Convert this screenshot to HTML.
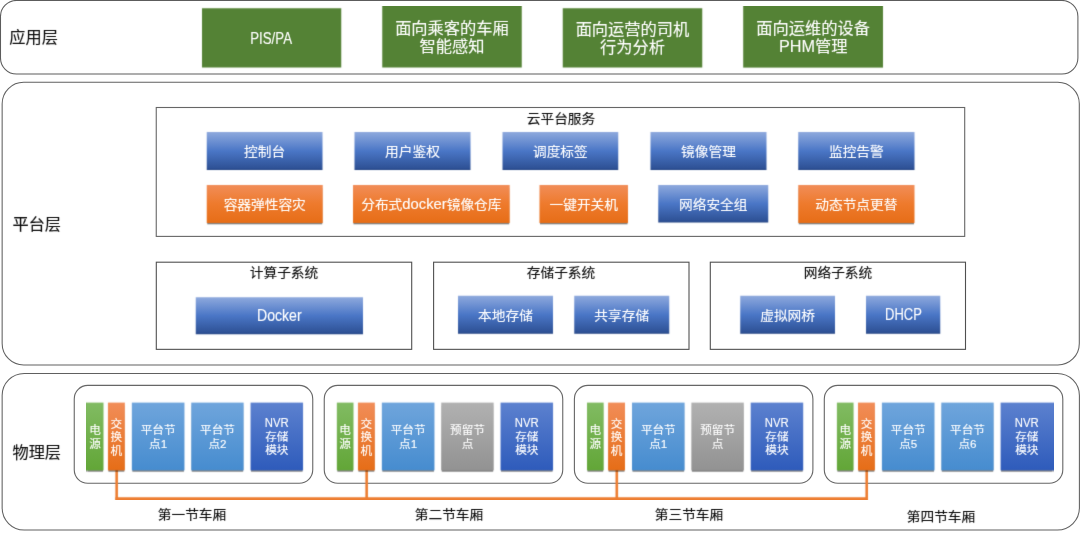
<!DOCTYPE html>
<html lang="zh-CN">
<head>
<meta charset="utf-8">
<title>架构图</title>
<style>
*{box-sizing:border-box;margin:0;padding:0}
html,body{width:1080px;height:533px;background:#fff;overflow:hidden}
body{position:relative;font-family:"Liberation Sans","Noto Sans CJK SC",sans-serif;color:#111}
svg{position:absolute;left:0;top:0;display:block}
#pg{position:absolute;left:0;top:0;width:1080px;height:533px;background:#fff}
#shp g{filter:url(#soft)}
#txt{position:absolute;left:0;top:0;width:1080px;height:533px;will-change:transform;filter:url(#soft2)}
#txt p{transform:scale(1,.95);transform-origin:50% 50%;-webkit-text-stroke:.12px currentColor}
#txt div{position:absolute;display:flex;align-items:center;justify-content:center;text-align:center;white-space:nowrap}
.lbl{font-size:16.2px;color:#0c0c0c}
.t{font-size:13.7px;color:#0c0c0c}
.g{color:#fff;font-size:16.25px;line-height:19px}
.w{color:#fff;font-size:13.7px}
.lt{display:inline-block;font-size:16.6px;line-height:19px}
.ph{display:inline-block;font-size:18.2px;line-height:19px;transform:scaleX(.893);transform-origin:0 50%;margin-right:-4.3px;vertical-align:baseline}
.nv{display:inline-block;font-size:14px;line-height:13.6px;transform:scaleX(.81);vertical-align:top;position:relative;top:-1px}
.n{color:#fff;font-size:11.6px;line-height:13.6px}
</style>
</head>
<body>
<div id="pg">
<svg id="shp" width="1080" height="533" viewBox="0 0 1080 533">
<defs>
<linearGradient id="gb" x1="0" y1="0" x2="0" y2="1"><stop offset="0" stop-color="#8ea9dd"/><stop offset=".5" stop-color="#4a76c6"/><stop offset=".96" stop-color="#2e5195"/><stop offset="1" stop-color="#1f3f80"/></linearGradient>
<linearGradient id="go" x1="0" y1="0" x2="0" y2="1"><stop offset="0" stop-color="#f18d58"/><stop offset=".5" stop-color="#ee7a2c"/><stop offset="1" stop-color="#e66d17"/></linearGradient>
<linearGradient id="gp" x1="0" y1="0" x2="0" y2="1"><stop offset="0" stop-color="#81bb62"/><stop offset="1" stop-color="#62a637"/></linearGradient>
<linearGradient id="gs" x1="0" y1="0" x2="0" y2="1"><stop offset="0" stop-color="#f18d58"/><stop offset="1" stop-color="#e66d17"/></linearGradient>
<linearGradient id="gn" x1="0" y1="0" x2="0" y2="1"><stop offset="0" stop-color="#6fa5dc"/><stop offset="1" stop-color="#468ccf"/></linearGradient>
<linearGradient id="gr" x1="0" y1="0" x2="0" y2="1"><stop offset="0" stop-color="#b1b1b1"/><stop offset="1" stop-color="#929292"/></linearGradient>
<linearGradient id="gv" x1="0" y1="0" x2="0" y2="1"><stop offset="0" stop-color="#5c81cf"/><stop offset="1" stop-color="#2e5bbb"/></linearGradient>
<filter id="soft" x="0" y="0" width="100%" height="100%" color-interpolation-filters="sRGB"><feConvolveMatrix order="3" kernelMatrix="1 5 1 5 25 5 1 5 1" divisor="49" edgeMode="duplicate" preserveAlpha="false"/></filter>
<filter id="soft2" x="0" y="0" width="100%" height="100%" color-interpolation-filters="sRGB"><feConvolveMatrix order="3" kernelMatrix="1 9 1 9 81 9 1 9 1" divisor="121" edgeMode="duplicate" preserveAlpha="false"/></filter>
<filter id="sh" x="-10%" y="-20%" width="120%" height="150%"><feGaussianBlur stdDeviation="0.75"/></filter>
</defs>
<rect x="0.5" y="0.45" width="1077.4" height="73.5" rx="16" fill="#fff" stroke="#5c5c5c" stroke-width="1.05"/>
<rect x="2.15" y="82.3" width="1077.15" height="282.7" rx="21.5" fill="#fff" stroke="#606060" stroke-width="1.05"/>
<rect x="2.15" y="373.4" width="1077.25" height="156.55" rx="22" fill="#fff" stroke="#606060" stroke-width="1.05"/>
<rect x="156.25" y="107.5" width="808.45" height="128.9" rx="0" fill="#fff" stroke="#666" stroke-width="1.1"/>
<rect x="156.3" y="262.2" width="255.4" height="87.15" rx="0" fill="#fff" stroke="#505050" stroke-width="1.1"/>
<rect x="433.6" y="262.2" width="255.4" height="87.15" rx="0" fill="#fff" stroke="#505050" stroke-width="1.1"/>
<rect x="710.3" y="262.2" width="255.2" height="87.15" rx="0" fill="#fff" stroke="#505050" stroke-width="1.1"/>
<rect x="74.25" y="385.4" width="238.5" height="97.9" rx="13.5" fill="#fff" stroke="#666" stroke-width="1.1"/>
<rect x="324.25" y="385.4" width="238.5" height="97.9" rx="13.5" fill="#fff" stroke="#666" stroke-width="1.1"/>
<rect x="574.4" y="385.4" width="238.5" height="97.9" rx="13.5" fill="#fff" stroke="#666" stroke-width="1.1"/>
<rect x="824.3" y="385.4" width="238.5" height="97.9" rx="13.5" fill="#fff" stroke="#666" stroke-width="1.1"/>
<g>
<rect x="202" y="8.25" width="139.25" height="59.25" fill="#548235"/>
<rect x="382.25" y="6" width="139.5" height="61.5" fill="#548235"/>
<rect x="562.75" y="8.25" width="139.5" height="59.25" fill="#548235"/>
<rect x="743.2" y="6" width="139.8" height="61.6" fill="#548235"/>
<rect x="206.75" y="132" width="115.75" height="38" fill="url(#gb)"/>
<rect x="354.5" y="132" width="116" height="38" fill="url(#gb)"/>
<rect x="502.5" y="132" width="115.75" height="38" fill="url(#gb)"/>
<rect x="650.5" y="132" width="116" height="38" fill="url(#gb)"/>
<rect x="798.25" y="132" width="116.25" height="38" fill="url(#gb)"/>
<rect x="207.25" y="188" width="115" height="36.3" fill="#000" opacity=".5" filter="url(#sh)"/>
<rect x="206.75" y="185" width="116" height="38" fill="url(#go)"/>
<rect x="353.5" y="188" width="155.7" height="36.3" fill="#000" opacity=".5" filter="url(#sh)"/>
<rect x="353" y="185" width="156.7" height="38" fill="url(#go)"/>
<rect x="540" y="188" width="87.5" height="36.3" fill="#000" opacity=".5" filter="url(#sh)"/>
<rect x="539.5" y="185" width="88.5" height="38" fill="url(#go)"/>
<rect x="658.25" y="185" width="110" height="37.5" fill="url(#gb)"/>
<rect x="798.75" y="188" width="115.25" height="36.3" fill="#000" opacity=".5" filter="url(#sh)"/>
<rect x="798.25" y="185" width="116.25" height="38" fill="url(#go)"/>
<rect x="195.75" y="297.25" width="167.25" height="37" fill="url(#gb)"/>
<rect x="458" y="295.75" width="95" height="38" fill="url(#gb)"/>
<rect x="574.25" y="295.75" width="95" height="38" fill="url(#gb)"/>
<rect x="740.25" y="295.75" width="94.75" height="38" fill="url(#gb)"/>
<rect x="866" y="295.75" width="74.25" height="38" fill="url(#gb)"/>
<rect x="115.35" y="468" width="2.6" height="31.8" fill="#ed7d31"/>
<rect x="365.35" y="468" width="2.6" height="31.8" fill="#ed7d31"/>
<rect x="615.5" y="468" width="2.6" height="31.8" fill="#ed7d31"/>
<rect x="865.4" y="468" width="2.6" height="31.8" fill="#ed7d31"/>
<rect x="115.35" y="497.25" width="752.4" height="2.55" fill="#ed7d31"/>
<rect x="87.35" y="405.6" width="15.65" height="66.1" fill="#000" opacity=".5" filter="url(#sh)"/>
<rect x="86.85" y="402.6" width="16.65" height="67.8" fill="url(#gp)"/>
<rect x="108.45" y="405.6" width="15.9" height="66.1" fill="#000" opacity=".5" filter="url(#sh)"/>
<rect x="107.95" y="402.6" width="16.9" height="67.8" fill="url(#gs)"/>
<rect x="132.35" y="405.6" width="51.6" height="66.1" fill="#000" opacity=".5" filter="url(#sh)"/>
<rect x="131.85" y="402.6" width="52.6" height="67.8" fill="url(#gn)"/>
<rect x="191.75" y="405.6" width="51.4" height="66.1" fill="#000" opacity=".5" filter="url(#sh)"/>
<rect x="191.25" y="402.6" width="52.4" height="67.8" fill="url(#gn)"/>
<rect x="251.05" y="405.6" width="51.5" height="66.1" fill="#000" opacity=".5" filter="url(#sh)"/>
<rect x="250.55" y="402.6" width="52.5" height="67.8" fill="url(#gv)"/>
<rect x="337.35" y="405.6" width="15.65" height="66.1" fill="#000" opacity=".5" filter="url(#sh)"/>
<rect x="336.85" y="402.6" width="16.65" height="67.8" fill="url(#gp)"/>
<rect x="358.45" y="405.6" width="15.9" height="66.1" fill="#000" opacity=".5" filter="url(#sh)"/>
<rect x="357.95" y="402.6" width="16.9" height="67.8" fill="url(#gs)"/>
<rect x="382.35" y="405.6" width="51.6" height="66.1" fill="#000" opacity=".5" filter="url(#sh)"/>
<rect x="381.85" y="402.6" width="52.6" height="67.8" fill="url(#gn)"/>
<rect x="441.75" y="405.6" width="51.4" height="66.1" fill="#000" opacity=".5" filter="url(#sh)"/>
<rect x="441.25" y="402.6" width="52.4" height="67.8" fill="url(#gr)"/>
<rect x="501.05" y="405.6" width="51.5" height="66.1" fill="#000" opacity=".5" filter="url(#sh)"/>
<rect x="500.55" y="402.6" width="52.5" height="67.8" fill="url(#gv)"/>
<rect x="587.5" y="405.6" width="15.65" height="66.1" fill="#000" opacity=".5" filter="url(#sh)"/>
<rect x="587" y="402.6" width="16.65" height="67.8" fill="url(#gp)"/>
<rect x="608.6" y="405.6" width="15.9" height="66.1" fill="#000" opacity=".5" filter="url(#sh)"/>
<rect x="608.1" y="402.6" width="16.9" height="67.8" fill="url(#gs)"/>
<rect x="632.5" y="405.6" width="51.6" height="66.1" fill="#000" opacity=".5" filter="url(#sh)"/>
<rect x="632" y="402.6" width="52.6" height="67.8" fill="url(#gn)"/>
<rect x="691.9" y="405.6" width="51.4" height="66.1" fill="#000" opacity=".5" filter="url(#sh)"/>
<rect x="691.4" y="402.6" width="52.4" height="67.8" fill="url(#gr)"/>
<rect x="751.2" y="405.6" width="51.5" height="66.1" fill="#000" opacity=".5" filter="url(#sh)"/>
<rect x="750.7" y="402.6" width="52.5" height="67.8" fill="url(#gv)"/>
<rect x="837.4" y="405.6" width="15.65" height="66.1" fill="#000" opacity=".5" filter="url(#sh)"/>
<rect x="836.9" y="402.6" width="16.65" height="67.8" fill="url(#gp)"/>
<rect x="858.5" y="405.6" width="15.9" height="66.1" fill="#000" opacity=".5" filter="url(#sh)"/>
<rect x="858" y="402.6" width="16.9" height="67.8" fill="url(#gs)"/>
<rect x="882.4" y="405.6" width="51.6" height="66.1" fill="#000" opacity=".5" filter="url(#sh)"/>
<rect x="881.9" y="402.6" width="52.6" height="67.8" fill="url(#gn)"/>
<rect x="941.8" y="405.6" width="51.4" height="66.1" fill="#000" opacity=".5" filter="url(#sh)"/>
<rect x="941.3" y="402.6" width="52.4" height="67.8" fill="url(#gn)"/>
<rect x="1001.1" y="405.6" width="51.5" height="66.1" fill="#000" opacity=".5" filter="url(#sh)"/>
<rect x="1000.6" y="402.6" width="52.5" height="67.8" fill="url(#gv)"/>
</g>
</svg>
<div id="txt">
<div class="lbl" style="left:9.3px;top:17px;width:48.5px;height:38px;"><p>应用层</p></div>
<div class="lbl" style="left:12.5px;top:203.5px;width:48.5px;height:38px;"><p>平台层</p></div>
<div class="lbl" style="left:12.5px;top:432px;width:48.5px;height:38px;"><p>物理层</p></div>
<div class="g" style="left:202px;top:9.25px;width:139.25px;height:59.25px;"><p><span class="lt" style="transform:scaleX(.80)">PIS/PA</span></p></div>
<div class="g" style="left:382.25px;top:7px;width:139.5px;height:61.5px;"><p>面向乘客的车厢<br>智能感知</p></div>
<div class="g" style="left:562.75px;top:9.25px;width:139.5px;height:59.25px;"><p>面向运营的司机<br>行为分析</p></div>
<div class="g" style="left:743.2px;top:7px;width:139.8px;height:61.6px;"><p>面向运维的设备<br><span class="ph">PHM</span>管理</p></div>
<div class="t" style="left:500px;top:107px;width:122px;height:20px;"><p>云平台服务</p></div>
<div class="w" style="left:206.75px;top:131px;width:115.75px;height:38px;"><p>控制台</p></div>
<div class="w" style="left:354.5px;top:131px;width:116px;height:38px;"><p>用户鉴权</p></div>
<div class="w" style="left:502.5px;top:131px;width:115.75px;height:38px;"><p>调度标签</p></div>
<div class="w" style="left:650.5px;top:131px;width:116px;height:38px;"><p>镜像管理</p></div>
<div class="w" style="left:798.25px;top:131px;width:116.25px;height:38px;"><p>监控告警</p></div>
<div class="w" style="left:206.75px;top:184px;width:116px;height:38px;"><p>容器弹性容灾</p></div>
<div class="w" style="left:353px;top:184px;width:156.7px;height:38px;"><p>分布式<span style="font-size:14.8px">docker</span>镜像仓库</p></div>
<div class="w" style="left:539.5px;top:184px;width:88.5px;height:38px;"><p>一键开关机</p></div>
<div class="w" style="left:658.25px;top:184px;width:110px;height:37.5px;"><p>网络安全组</p></div>
<div class="w" style="left:798.25px;top:184px;width:116.25px;height:38px;"><p>动态节点更替</p></div>
<div class="t" style="left:224px;top:260.5px;width:120px;height:20px;"><p>计算子系统</p></div>
<div class="t" style="left:501px;top:260.5px;width:120px;height:20px;"><p>存储子系统</p></div>
<div class="t" style="left:778px;top:260.5px;width:120px;height:20px;"><p>网络子系统</p></div>
<div class="w" style="left:195.75px;top:297.25px;width:167.25px;height:37px;"><p><span class="lt" style="transform:scaleX(.85)">Docker</span></p></div>
<div class="w" style="left:458px;top:294.75px;width:95px;height:38px;"><p>本地存储</p></div>
<div class="w" style="left:574.25px;top:294.75px;width:95px;height:38px;"><p>共享存储</p></div>
<div class="w" style="left:740.25px;top:294.75px;width:94.75px;height:38px;"><p>虚拟网桥</p></div>
<div class="w" style="left:866px;top:295.75px;width:74.25px;height:38px;"><p><span class="lt" style="transform:scaleX(.783)">DHCP</span></p></div>
<div class="n" style="left:86.85px;top:403.6px;width:16.65px;height:67.8px;line-height:14.6px"><p>电<br>源</p></div>
<div class="n" style="left:107.95px;top:403.6px;width:16.9px;height:67.8px;line-height:14.4px"><p>交<br>换<br>机</p></div>
<div class="n" style="left:131.85px;top:403.6px;width:52.6px;height:67.8px;line-height:14.6px"><p>平台节<br>点1</p></div>
<div class="n" style="left:191.25px;top:403.6px;width:52.4px;height:67.8px;line-height:14.6px"><p>平台节<br>点2</p></div>
<div class="n" style="left:250.55px;top:403.6px;width:52.5px;height:67.8px;line-height:14.2px"><p><span class="nv">NVR</span><br>存储<br>模块</p></div>
<div class="t" style="left:132px;top:502.5px;width:120px;height:20px;"><p>第一节车厢</p></div>
<div class="n" style="left:336.85px;top:403.6px;width:16.65px;height:67.8px;line-height:14.6px"><p>电<br>源</p></div>
<div class="n" style="left:357.95px;top:403.6px;width:16.9px;height:67.8px;line-height:14.4px"><p>交<br>换<br>机</p></div>
<div class="n" style="left:381.85px;top:403.6px;width:52.6px;height:67.8px;line-height:14.6px"><p>平台节<br>点1</p></div>
<div class="n" style="left:441.25px;top:403.6px;width:52.4px;height:67.8px;line-height:14.6px"><p>预留节<br>点</p></div>
<div class="n" style="left:500.55px;top:403.6px;width:52.5px;height:67.8px;line-height:14.2px"><p><span class="nv">NVR</span><br>存储<br>模块</p></div>
<div class="t" style="left:389px;top:502.5px;width:120px;height:20px;"><p>第二节车厢</p></div>
<div class="n" style="left:587px;top:403.6px;width:16.65px;height:67.8px;line-height:14.6px"><p>电<br>源</p></div>
<div class="n" style="left:608.1px;top:403.6px;width:16.9px;height:67.8px;line-height:14.4px"><p>交<br>换<br>机</p></div>
<div class="n" style="left:632px;top:403.6px;width:52.6px;height:67.8px;line-height:14.6px"><p>平台节<br>点1</p></div>
<div class="n" style="left:691.4px;top:403.6px;width:52.4px;height:67.8px;line-height:14.6px"><p>预留节<br>点</p></div>
<div class="n" style="left:750.7px;top:403.6px;width:52.5px;height:67.8px;line-height:14.2px"><p><span class="nv">NVR</span><br>存储<br>模块</p></div>
<div class="t" style="left:629px;top:502.5px;width:120px;height:20px;"><p>第三节车厢</p></div>
<div class="n" style="left:836.9px;top:403.6px;width:16.65px;height:67.8px;line-height:14.6px"><p>电<br>源</p></div>
<div class="n" style="left:858px;top:403.6px;width:16.9px;height:67.8px;line-height:14.4px"><p>交<br>换<br>机</p></div>
<div class="n" style="left:881.9px;top:403.6px;width:52.6px;height:67.8px;line-height:14.6px"><p>平台节<br>点5</p></div>
<div class="n" style="left:941.3px;top:403.6px;width:52.4px;height:67.8px;line-height:14.6px"><p>平台节<br>点6</p></div>
<div class="n" style="left:1000.6px;top:403.6px;width:52.5px;height:67.8px;line-height:14.2px"><p><span class="nv">NVR</span><br>存储<br>模块</p></div>
<div class="t" style="left:881px;top:505px;width:120px;height:20px;"><p>第四节车厢</p></div>
</div>
</div>
</body>
</html>
